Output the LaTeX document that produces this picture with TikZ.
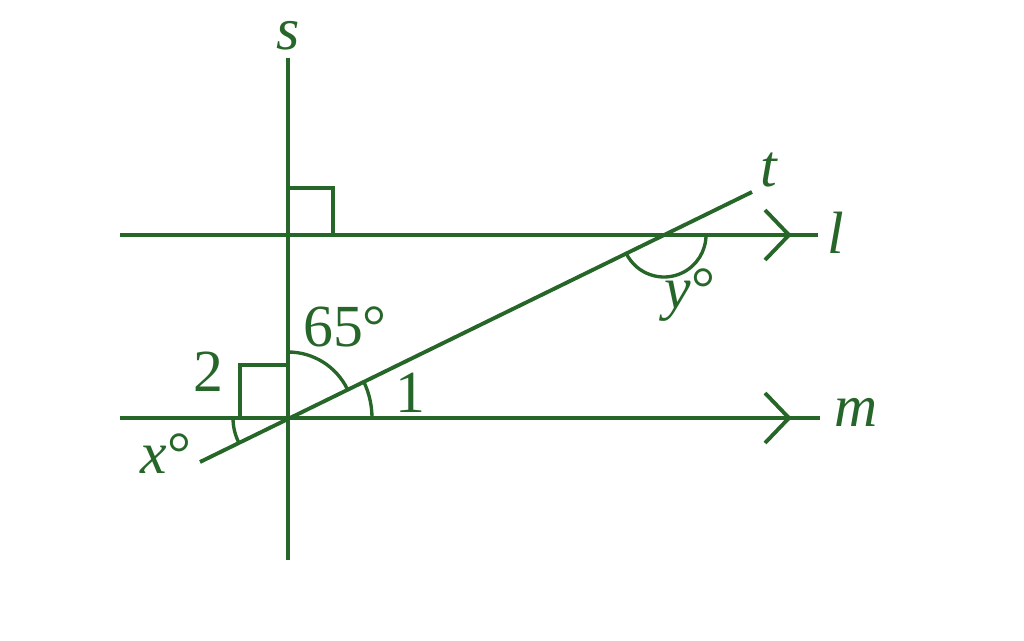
\documentclass[tikz,border=0pt]{standalone}
\usepackage{fontspec}
\setmainfont{Liberation Serif}
\definecolor{linegreen}{RGB}{38,102,40}
\begin{document}
\begin{tikzpicture}[x=0.02cm,y=0.02cm]
  \tikzset{ln/.style={draw=linegreen, line width=2.2pt},
           mk/.style={draw=linegreen, line width=1.9pt},
           lbl/.style={text=linegreen, font=\fontsize{34}{40}\selectfont\itshape, inner sep=0pt},
           num/.style={text=linegreen, font=\fontsize{34}{40}\selectfont, inner sep=0pt}}
  \useasboundingbox (0,0) rectangle (1024,640);
  	\coordinate (O) at (288,222);
    \coordinate (sT) at (288,582);
    \coordinate (sB) at (288,80);
    \coordinate (lA) at (120,405);
    \coordinate (lT) at (789,405);
    \coordinate (lB) at (818,405);
    \coordinate (mA) at (120,222);
    \coordinate (mT) at (789,222);
    \coordinate (mB) at (820,222);
    \coordinate (tA) at (200,178);
    \coordinate (tB) at (752,448);
    \coordinate (P) at (664,405);

	\path[ln] (sB) edge node {} (sT);
	\path[ln] (lA) edge node {} (lB);
	\path[ln] (mA) edge node {} (mB);
	\path[ln] (tA) edge node {} (tB);
	\draw[ln, line join=miter] (lT) ++(-24,25) -- (lT) -- ++(-24,-25);
	\draw[ln, line join=miter] (mT) ++(-24,25) -- (mT) -- ++(-24,-25);

	\draw[mk] (288,452) -- (333,452) -- (333,405);
	\draw[mk] (240,222) -- (240,275) -- (288,275);
	\draw[mk] ([shift={(90:66)}]O) arc (90:26:66);
	\draw[mk] ([shift={(0:84)}]O) arc (0:26:84);
	\draw[mk] ([shift={(180:55)}]O) arc (180:206:55);
	\draw[mk] ([shift={(206:42)}]P) arc (206:360:42);

	\node[lbl] (s) at (288,604) {s};
	\node[lbl] (t) at (769,470) {t};
	\node[lbl] (l) at (836,407) {l};
	\node[lbl] (m) at (856,228) {m};
	\node[num] (a65) at (345,313) {65°};
	\node[num] (a2) at (208,268) {2};
	\node[num] (a1) at (410,247) {1};
	\node[lbl] (x) at (166,186) {x\upshape°};
	\node[lbl] (y) at (690,345) {y\upshape°};

  \end{tikzpicture}
\end{document}
